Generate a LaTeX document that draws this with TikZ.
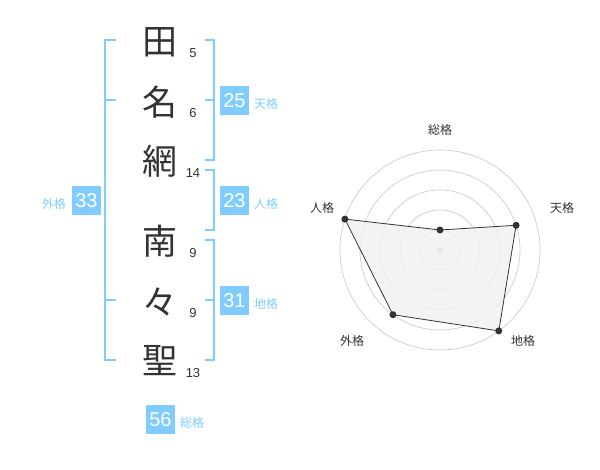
\documentclass[tikz,border=0pt]{standalone}
\usepackage{fontspec}
\usetikzlibrary{calc}
\setmainfont{Liberation Sans}
\newfontfamily\cjk{Noto Sans CJK JP}
\definecolor{sky}{RGB}{128,204,255}
\definecolor{ink}{RGB}{51,51,51}
\definecolor{ring}{RGB}{204,204,204}
\definecolor{area}{RGB}{240,240,240}
\begin{document}
\begin{tikzpicture}[x=1pt,y=-1pt,
  kanji/.style={font=\cjk\fontsize{35}{35}\selectfont,text=ink,inner sep=0pt},
  strokes/.style={font=\fontsize{13}{13}\selectfont,text=ink,inner sep=0pt},
  valbox/.style={fill=sky,text=white,minimum width=29pt,minimum height=29pt,inner sep=0pt,font=\fontsize{20}{20}\selectfont},
  bluelab/.style={font=\cjk\fontsize{12}{12}\selectfont,text=sky,inner sep=0pt},
  brk/.style={draw=sky,line width=2pt},
  axlab/.style={font=\cjk\fontsize{12}{12}\selectfont,text=ink,inner sep=0pt},
  dot/.style={circle,fill=ink,inner sep=0pt,minimum size=7pt}]
\useasboundingbox (0,0) rectangle (600,470);
% characters
\node[kanji] (c1) at (160,42) {田};
\node[kanji] (c2) at (160,102) {名};
\node[kanji] (c3) at (160,161) {網};
\node[kanji] (c4) at (160,241) {南};
\node[kanji] (c5) at (160,302) {々};
\node[kanji] (c6) at (160,361) {聖};
\node[strokes] (n1) at (193,53) {5};
\node[strokes] (n2) at (193,113) {6};
\node[strokes] (n3) at (193,173) {14};
\node[strokes] (n4) at (193,253) {9};
\node[strokes] (n5) at (193,313) {9};
\node[strokes] (n6) at (193,373) {13};
% brackets
\draw[brk] (116,40) -- (105,40) -- (105,360) -- (116,360);
\draw[brk] (105,100) -- (116,100);
\draw[brk] (105,300) -- (116,300);
\draw[brk] (205,40) -- (214,40) -- (214,160) -- (205,160);
\draw[brk] (205,100) -- (214,100);
\draw[brk] (205,170) -- (214,170) -- (214,230) -- (205,230);
\draw[brk] (205,240) -- (214,240) -- (214,360) -- (205,360);
\draw[brk] (205,300) -- (214,300);
% values
\node[valbox] (b1) at (234.5,100.5) {25};
\node[bluelab,anchor=west] (l1) at (254,104) {天格};
\node[valbox] (b2) at (234.5,200.5) {23};
\node[bluelab,anchor=west] (l2) at (254,204) {人格};
\node[valbox] (b3) at (86.5,200.5) {33};
\node[bluelab,anchor=east] (l3) at (66,204) {外格};
\node[valbox] (b4) at (234.5,300.5) {31};
\node[bluelab,anchor=west] (l4) at (254,304) {地格};
\node[valbox] (b5) at (160.5,419.5) {56};
\node[bluelab,anchor=west] (l5) at (180,423) {総格};
% radar
\coordinate (O) at (440,250);
\foreach \r in {20,40,60,80,100} \draw[ring,line width=0.7pt] (O) circle[radius=\r];
\fill[ring] (O) circle[radius=3.5];
\coordinate (p1) at ($(O)+(0,-20)$);
\coordinate (p2) at ($(O)+({80*cos(18)},{-80*sin(18)})$);
\coordinate (p3) at ($(O)+({100*cos(54)},{100*sin(54)})$);
\coordinate (p4) at ($(O)+({-80*cos(54)},{80*sin(54)})$);
\coordinate (p5) at ($(O)+({-100*cos(18)},{-100*sin(18)})$);
\draw[fill=area,fill opacity=0.8,draw=ink,line width=0.8pt] (p1) -- (p2) -- (p3) -- (p4) -- (p5) -- cycle;
\foreach \p in {p1,p2,p3,p4,p5} \node[dot] at (\p) {};
\node[axlab] (a1) at (440,130) {総格};
\node[axlab] (a2) at (562,208) {天格};
\node[axlab] (a3) at (523,341) {地格};
\node[axlab] (a4) at (352,341) {外格};
\node[axlab] (a5) at (322,208) {人格};
\end{tikzpicture}
\end{document}
